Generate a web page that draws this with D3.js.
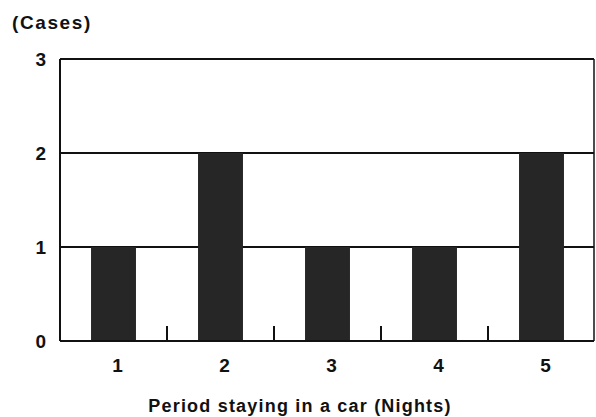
<!DOCTYPE html>
<html>
<head>
<meta charset="utf-8">
<script src="https://cdn.jsdelivr.net/npm/d3@7"></script>
<style>
  body { margin: 0; background: #fff; }
  text { font-family: "Liberation Sans", Arial, sans-serif; font-weight: bold; fill: #111; }
</style>
</head>
<body>
<div id="chart"></div>
<script>
var nights = ["1", "2", "3", "4", "5"];
var cases = [1, 2, 1, 1, 2];
var yTicks = [0, 1, 2, 3];

var width = 596, height = 417;
var margin = { left: 60, right: 2, top: 59, bottom: 76 };

var svg = d3.select("#chart").append("svg")
    .attr("width", width)
    .attr("height", height);

var x = d3.scaleBand()
    .domain(nights)
    .range([margin.left, width - margin.right + 1])
    .paddingInner(0.58)
    .paddingOuter(0.29);

var y = d3.scaleLinear()
    .domain([0, 3])
    .range([height - margin.bottom, margin.top]);

// gridlines
svg.selectAll(".grid")
    .data(yTicks.filter(d => d > 0))
    .enter().append("line")
    .attr("x1", margin.left)
    .attr("x2", width - margin.right)
    .attr("y1", d => y(d))
    .attr("y2", d => y(d))
    .style("stroke", "#111")
    .style("stroke-width", 2);

// right border
svg.append("line")
    .attr("x1", width - margin.right)
    .attr("x2", width - margin.right)
    .attr("y1", y(3))
    .attr("y2", y(0))
    .style("stroke", "#111")
    .style("stroke-width", 1.5);

// bars
svg.selectAll(".bar")
    .data(cases)
    .enter().append("rect")
    .attr("x", (d, i) => x(nights[i]))
    .attr("width", x.bandwidth())
    .attr("y", d => y(d))
    .attr("height", d => y(0) - y(d))
    .style("fill", "#262626");

// ticks between categories
var step = x.step();
svg.selectAll(".tick-mark")
    .data(nights.slice(1))
    .enter().append("line")
    .attr("x1", d => x(d) - (step - x.bandwidth()) / 2)
    .attr("x2", d => x(d) - (step - x.bandwidth()) / 2)
    .attr("y1", y(0))
    .attr("y2", y(0) - 15)
    .style("stroke", "#111")
    .style("stroke-width", 2);

// left and bottom axis lines
svg.append("line")
    .attr("x1", margin.left).attr("x2", margin.left)
    .attr("y1", y(3)).attr("y2", y(0))
    .style("stroke", "#111").style("stroke-width", 2);
svg.append("line")
    .attr("x1", margin.left).attr("x2", width - margin.right)
    .attr("y1", y(0)).attr("y2", y(0))
    .style("stroke", "#111").style("stroke-width", 2);

// y labels
svg.selectAll(".ylab")
    .data(yTicks)
    .enter().append("text")
    .attr("x", 46)
    .attr("y", d => y(d) + 7)
    .attr("text-anchor", "end")
    .style("font-size", "19px")
    .text(d => d);

// x labels
svg.selectAll(".xlab")
    .data(nights)
    .enter().append("text")
    .attr("x", d => x(d) + x.bandwidth() / 2 + 4)
    .attr("y", y(0) + 31)
    .attr("text-anchor", "middle")
    .style("font-size", "19px")
    .text(d => d);

svg.append("text")
    .attr("x", 12)
    .attr("y", 29)
    .style("font-size", "19px")
    .style("letter-spacing", "1.6px")
    .text("(Cases)");

svg.append("text")
    .attr("x", 300)
    .attr("y", 412)
    .attr("text-anchor", "middle")
    .style("font-size", "18px")
    .style("letter-spacing", "1.2px")
    .text("Period staying in a car (Nights)");
</script>
</body>
</html>
